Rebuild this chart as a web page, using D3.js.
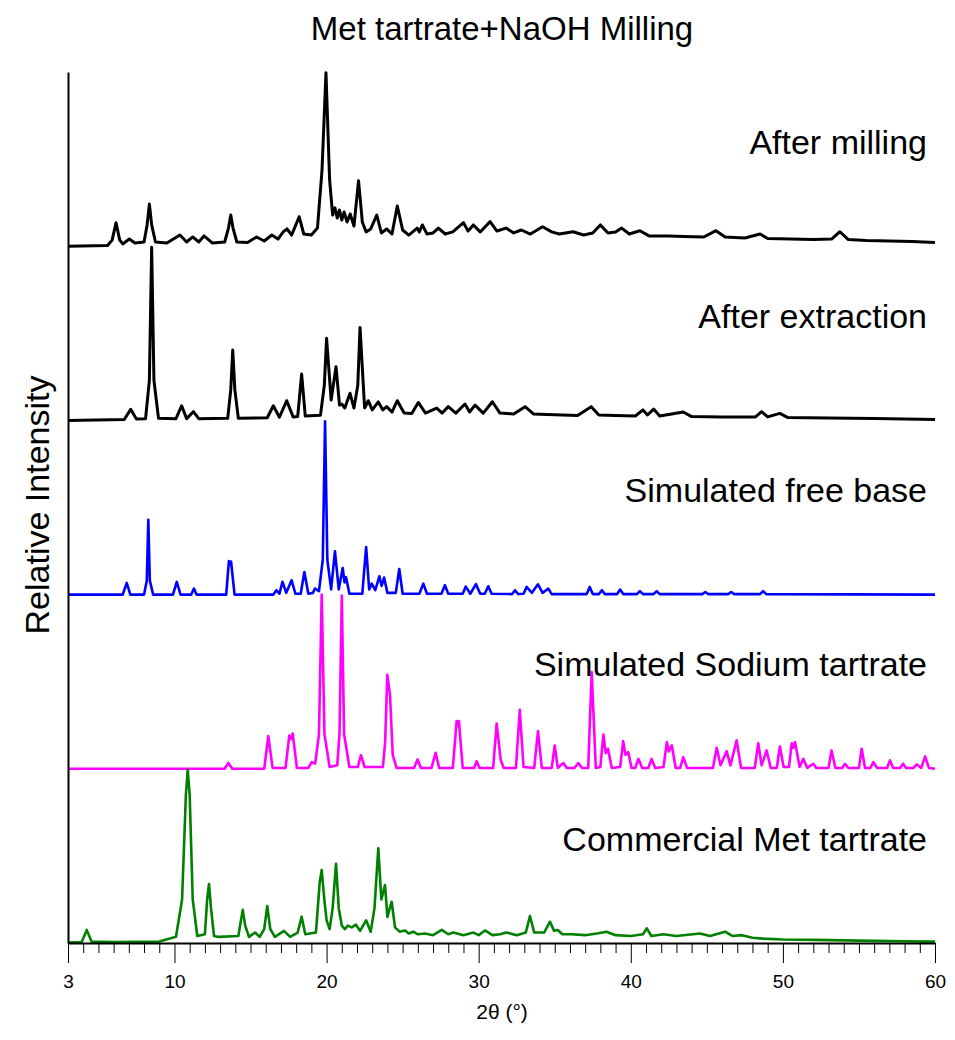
<!DOCTYPE html>
<meta charset="utf-8">
<script src="https://d3js.org/d3.v7.min.js"></script>
<style>
  body { margin: 0; background: #fff; }
  text { font-family: "Liberation Sans", Arial, sans-serif; }
</style>
<svg id="chart" width="955" height="1040"></svg>
<script>
// ---- data: [2theta, relative intensity] ----
const xTicks = [3, 10, 20, 30, 40, 50, 60];
const labels = ["After milling", "After extraction", "Simulated free base",
                "Simulated Sodium tartrate", "Commercial Met tartrate"];
const colors = ["#000000", "#000000", "#0000ff", "#ff00ff", "#008000"];
const widths = [3, 3, 2.6, 2.6, 2.6];
const offsets = [4, 3, 2, 1, 0];

const afterMilling = [
  [3,0],[5.6,0.4],[5.9,3.5],[6.16,13.5],[6.4,3.5],[6.6,1.3],[7.03,4.1],[7.4,1.8],
  [8,2.4],[8.2,12.2],[8.35,24.2],[8.5,12.2],[8.75,2.4],[9.5,1.8],[10.36,6.4],[10.8,2.4],
  [11.2,5.3],[11.6,2.4],[11.94,5.9],[12.5,1.8],[13.3,2.4],[13.55,10.4],[13.7,17.9],
  [13.85,10.4],[14.1,2.4],[14.8,2.1],[15.4,5.3],[15.9,3],[16.4,6.4],[16.8,4.1],
  [17.15,8.2],[17.4,9.9],[17.7,6.4],[18.2,16.9],[18.5,7],[19,6.4],[19.4,10.4],
  [19.7,43.7],[19.96,99.6],[20.2,38],[20.4,17.9],[20.55,22],[20.7,16.2],[20.85,20.8],
  [21,15],[21.15,19.6],[21.35,13.9],[21.55,18.5],[21.8,11.6],[22.1,37.6],[22.35,13.9],
  [22.6,8.2],[22.9,9.9],[23.3,17.9],[23.6,7.6],[23.95,9.9],[24.3,7],[24.65,23.1],
  [25,9.3],[25.4,6.4],[25.96,10.4],[26.1,8.2],[26.3,12.2],[26.6,7],[27,7.6],[27.35,10.4],
  [27.8,7],[28.3,8.2],[29,13.5],[29.3,8.7],[29.65,12.2],[30.1,8.2],[30.75,14.1],
  [31.2,8.7],[31.8,10.4],[32.3,7.6],[32.8,9.3],[33.4,7],[34.2,11.2],[34.8,8.2],[35.3,7],
  [36.2,8.3],[36.9,6.4],[37.5,7.6],[38,12.2],[38.5,7.6],[39,8.2],[39.4,10.4],[39.9,7],
  [40.6,8.9],[41.2,5.9],[42.5,5.9],[43.5,5.6],[44.8,5.3],[45.6,8.9],[46.2,5.3],
  [47.5,4.7],[48.5,7],[49,4.4],[50.5,4.1],[52,3.8],[53.2,4.1],[53.75,8.3],[54.3,3.8],
  [55.5,3.3],[57,3],[58.5,2.7],[60,2.1]
];

const afterExtraction = [
  [3,0],[6.7,0.5],[7.12,6.4],[7.5,0.8],[8.1,1],[8.35,23],[8.5,99.4],[8.65,23],[8.95,1.2],
  [10.1,1],[10.47,8.4],[10.8,1],[11.24,5],[11.6,1],[13.5,1.2],[13.7,17.5],[13.83,40.4],
  [13.97,17.5],[14.2,1.2],[16.1,1.5],[16.5,8.4],[16.9,1.8],[17.38,11.3],[17.8,2],
  [18.1,2.2],[18.36,26.6],[18.6,2.5],[19.6,3],[19.85,20],[20,47.1],[20.3,11.7],
  [20.62,30.8],[20.85,8.8],[21,9.4],[21.2,7.1],[21.54,15.6],[21.8,7.1],[22.05,20],
  [22.2,53.4],[22.5,7.1],[22.74,11.3],[23,6],[23.4,10.6],[23.7,6],[23.95,7.9],[24.3,4.8],
  [24.65,11.3],[25.1,4.2],[25.6,4],[26.03,10.3],[26.5,4.2],[27.24,7.1],[27.6,4.2],
  [28,7.9],[28.5,4.2],[29.1,9.4],[29.4,4.8],[29.76,8.8],[30.3,4.2],[30.9,10.7],[31.4,4.2],
  [32.3,3.7],[33.05,7.9],[33.6,3.7],[34.5,3.4],[35.5,3.1],[36.5,2.8],[37.4,7.9],[37.9,3.1],
  [39,2.8],[40.3,2.5],[40.8,6],[41.1,3.1],[41.5,6.5],[41.9,2.5],[43.45,4.8],[44,2.2],
  [46,2],[48.2,2],[48.6,5],[49,2],[49.8,4],[50.3,1.7],[53,1.4],[56,1.1],[60,0.5]
];

const simFreeBase = [
  [3,0],[6.6,0],[6.86,6.7],[7.1,0],[8,0],[8.18,8],[8.28,43],[8.38,8],[8.6,0],[9.9,0],
  [10.15,7.3],[10.4,0],[11.1,0],[11.28,3.5],[11.45,0],[13.4,0],[13.58,19.3],[13.65,17],
  [13.72,19],[13.95,0],[16.5,0],[16.7,2.5],[16.9,0.5],[17.1,7.3],[17.35,1],[17.7,8.2],
  [17.95,0.5],[18.3,0.5],[18.54,13],[18.8,0.5],[19.1,1],[19.24,3.5],[19.5,2],[19.75,20],
  [19.9,99.5],[20.05,20],[20.3,3],[20.55,24.9],[20.8,3],[21.06,15.3],[21.18,7],
  [21.28,10],[21.5,0.5],[22.35,0.5],[22.6,27.3],[22.8,3],[22.97,6.3],[23.2,2.5],
  [23.47,10.5],[23.62,5],[23.78,9.8],[24,1],[24.55,1],[24.78,14.7],[25,0.5],[26.1,0.5],
  [26.36,6.3],[26.6,0.5],[27.55,0.5],[27.78,5.4],[28,0.5],[28.95,0.5],[29.15,4.6],
  [29.45,0.5],[29.82,6],[30.1,0.5],[30.4,0.5],[30.63,4.8],[30.85,0.5],[32.2,0.3],
  [32.39,2.5],[32.6,0.3],[32.95,0.5],[33.15,4.4],[33.5,1],[33.9,5.9],[34.2,1],[34.58,3.4],
  [34.8,0.3],[37.1,0.3],[37.3,4.4],[37.5,0.3],[37.9,0.3],[38.1,2.5],[38.3,0.3],[39.1,0.3],
  [39.3,2.9],[39.5,0.3],[40.4,0.3],[40.6,2],[40.8,0.3],[41.5,0.3],[41.7,2],[41.9,0.3],
  [44.7,0.3],[44.9,1.5],[45.1,0.3],[46.4,0.3],[46.6,1.5],[46.8,0.3],[48.5,0.3],[48.7,2],
  [48.9,0.3],[60,0]
];

const simSodiumTartrate = [
  [3,0],[13.3,0],[13.54,3.4],[13.8,0],[15.9,0],[16.17,18.8],[16.45,0.5],[17.3,0.5],
  [17.55,19.1],[17.68,17],[17.77,20.3],[18.05,0.5],[18.8,0.5],[19.02,3.8],[19.25,3],
  [19.5,20],[19.68,100],[19.86,20],[20.2,1],[20.7,2],[20.85,20],[21,99.5],[21.15,20],
  [21.5,1],[22.05,1],[22.26,7.8],[22.5,1],[23.7,1],[23.85,15],[23.99,54],[24.17,42.6],
  [24.35,8],[24.6,0.5],[25.75,0.5],[25.98,5.4],[26.2,0.5],[26.9,0.5],[27.17,9.2],
  [27.4,0.5],[28.3,0.5],[28.55,27.4],[28.62,25],[28.7,27.4],[28.95,0.5],[29.7,0.5],
  [29.87,4.4],[30.05,0.5],[30.95,0.5],[31.18,26],[31.45,5],[31.65,0.5],[32.45,0.5],
  [32.7,33.9],[32.95,1],[33.65,0.5],[33.9,21.6],[34.15,0.5],[34.8,0.5],[35,13.4],
  [35.2,0.5],[35.56,3.3],[35.8,0.5],[36.3,0.5],[36.55,3.3],[36.8,0.5],[37.2,0.5],
  [37.43,55.5],[37.7,0.5],[38,1],[38.2,19.7],[38.35,9],[38.5,11.5],[38.75,0.5],[39.3,1],
  [39.5,15.9],[39.65,8],[39.83,9.6],[40.05,0.5],[40.3,0.5],[40.5,5.7],[40.75,0.5],
  [41.15,0.5],[41.37,5.7],[41.6,0.5],[42.15,1],[42.37,15.3],[42.5,10],[42.7,13.4],
  [42.95,0.5],[43.25,0.5],[43.45,6.7],[43.7,0.5],[45.4,0.5],[45.65,12],[45.9,2],
  [46.3,10.1],[46.55,2],[46.96,16.3],[47.25,0.5],[48.15,0.5],[48.38,14.7],[48.6,2],
  [48.93,10.5],[49.2,0.5],[49.6,0.5],[49.8,12.8],[50.05,1],[50.4,1],[50.58,14.7],
  [50.68,12],[50.8,15.3],[51.1,1],[51.34,5.7],[51.6,0.5],[52,2.9],[52.2,0.5],[53,0.5],
  [53.2,10.5],[53.45,0.5],[53.9,0.5],[54.08,2.9],[54.3,0.5],[55,0.5],[55.18,11.5],
  [55.4,0.5],[55.75,0.5],[55.95,3.8],[56.2,0.5],[56.85,0.5],[57.04,4.8],[57.25,0.5],
  [57.7,0.5],[57.9,2.9],[58.1,0.5],[58.6,0.5],[58.8,2.5],[59.1,0.5],[59.35,7.1],
  [59.6,0.5],[60,0]
];

const commercialMet = [
  [3,0.3],[3.9,0.5],[4.23,7.5],[4.55,0.8],[6,0.5],[9,0.8],[10.1,3.6],[10.5,25],[10.75,85],
  [10.87,99.3],[11,85],[11.2,25],[11.5,4],[12,5],[12.15,25],[12.27,33.9],[12.4,20],
  [12.6,4],[12.88,3.5],[14.2,4],[14.35,12],[14.49,19],[14.65,10],[14.9,3.5],[15.3,6],
  [15.6,3.5],[15.9,8],[16.1,21.2],[16.3,8],[16.6,3.5],[17.2,7],[17.6,3.5],[18.1,6],
  [18.36,15.1],[18.6,5],[19.3,6],[19.55,35],[19.68,41.9],[19.85,25],[20,13],[20.2,8],
  [20.4,20],[20.62,45.4],[20.8,20],[21,10],[21.2,8],[21.4,10],[21.65,9],[21.93,10.5],
  [22.2,7],[22.6,13],[22.9,6.5],[23.15,20],[23.4,54.4],[23.6,25],[23.84,33.3],[24,15],
  [24.06,17],[24.28,23.7],[24.5,9],[24.8,6.5],[25.16,7.2],[25.4,5.5],[25.7,6.5],[26,5],
  [26.47,5.5],[27,4.5],[27.57,7.5],[28,5],[28.33,6],[29,4.5],[29.65,6],[30,4.5],
  [30.42,7.2],[30.9,4.5],[31.4,5],[31.84,6],[32.5,4.5],[33.1,6],[33.37,15.5],[33.65,6],
  [34.3,6],[34.69,12.2],[34.95,7],[35.2,7.5],[35.5,5],[36.1,5],[37,4.5],[37.76,5.5],
  [38.4,6.5],[39,4.5],[40,4],[40.8,5],[41.05,8.4],[41.35,4],[42.14,5],[43,4],[44.55,5.5],
  [45.2,4],[46.2,6.5],[46.7,4],[47.3,4.5],[48,3],[48.7,2.5],[50,2],[52,1.8],[54,1.5],
  [56,1.2],[58,1],[60,0.8]
];

const patterns = [afterMilling, afterExtraction, simFreeBase, simSodiumTartrate, commercialMet];

// ---- chart ----
const svg = d3.select("#chart");
const margin = {top: 72, right: 20, bottom: 97, left: 68};
const width = +svg.attr("width"), height = +svg.attr("height");

const x = d3.scaleLinear().domain([3, 60]).range([margin.left, width - margin.right]);
const y = d3.scaleLinear().domain([0, 5]).range([height - margin.bottom, margin.top]);

const line = d3.line()
  .x(d => x(d[0]))
  .y(d => y(d[1]));

patterns.forEach((p, i) => {
  svg.append("path")
    .datum(p.map(d => [d[0], offsets[i] + d[1] / 100]))
    .attr("fill", "none")
    .attr("stroke", colors[i])
    .attr("stroke-width", widths[i])
    .attr("stroke-linejoin", "round")
    .attr("d", line);

  svg.append("text")
    .attr("x", x(60) - 8)
    .attr("y", y(offsets[i] + 0.53))
    .attr("text-anchor", "end")
    .attr("font-size", 34)
    .text(labels[i]);
});

// x axis: major + minor ticks
const minor = d3.range(4, 60).filter(v => v % 10 !== 0);
svg.append("g")
  .attr("transform", `translate(0,${y(0)})`)
  .call(d3.axisBottom(x).tickValues(minor).tickSize(10).tickFormat("").tickSizeOuter(0))
  .call(g => g.select(".domain").remove());

const xAxis = svg.append("g")
  .attr("transform", `translate(0,${y(0)})`)
  .call(d3.axisBottom(x).tickValues(xTicks).tickSize(20).tickPadding(12).tickSizeOuter(0));
xAxis.select(".domain").attr("stroke-width", 2);
xAxis.selectAll("text").attr("font-size", 19).attr("fill", "#000");

// y axis: plain line
svg.append("g")
  .attr("transform", `translate(${x(3)},0)`)
  .call(d3.axisLeft(y).tickValues([]).tickSizeOuter(0))
  .select(".domain").attr("stroke-width", 2);

// titles
svg.append("text")
  .attr("x", 502).attr("y", 40)
  .attr("text-anchor", "middle")
  .attr("font-size", 33)
  .text("Met tartrate+NaOH Milling");

svg.append("text")
  .attr("x", 502).attr("y", 1019)
  .attr("text-anchor", "middle")
  .attr("font-size", 21)
  .text("2θ (°)");

svg.append("text")
  .attr("transform", "translate(49,505) rotate(-90)")
  .attr("text-anchor", "middle")
  .attr("font-size", 34)
  .text("Relative Intensity");
</script>
